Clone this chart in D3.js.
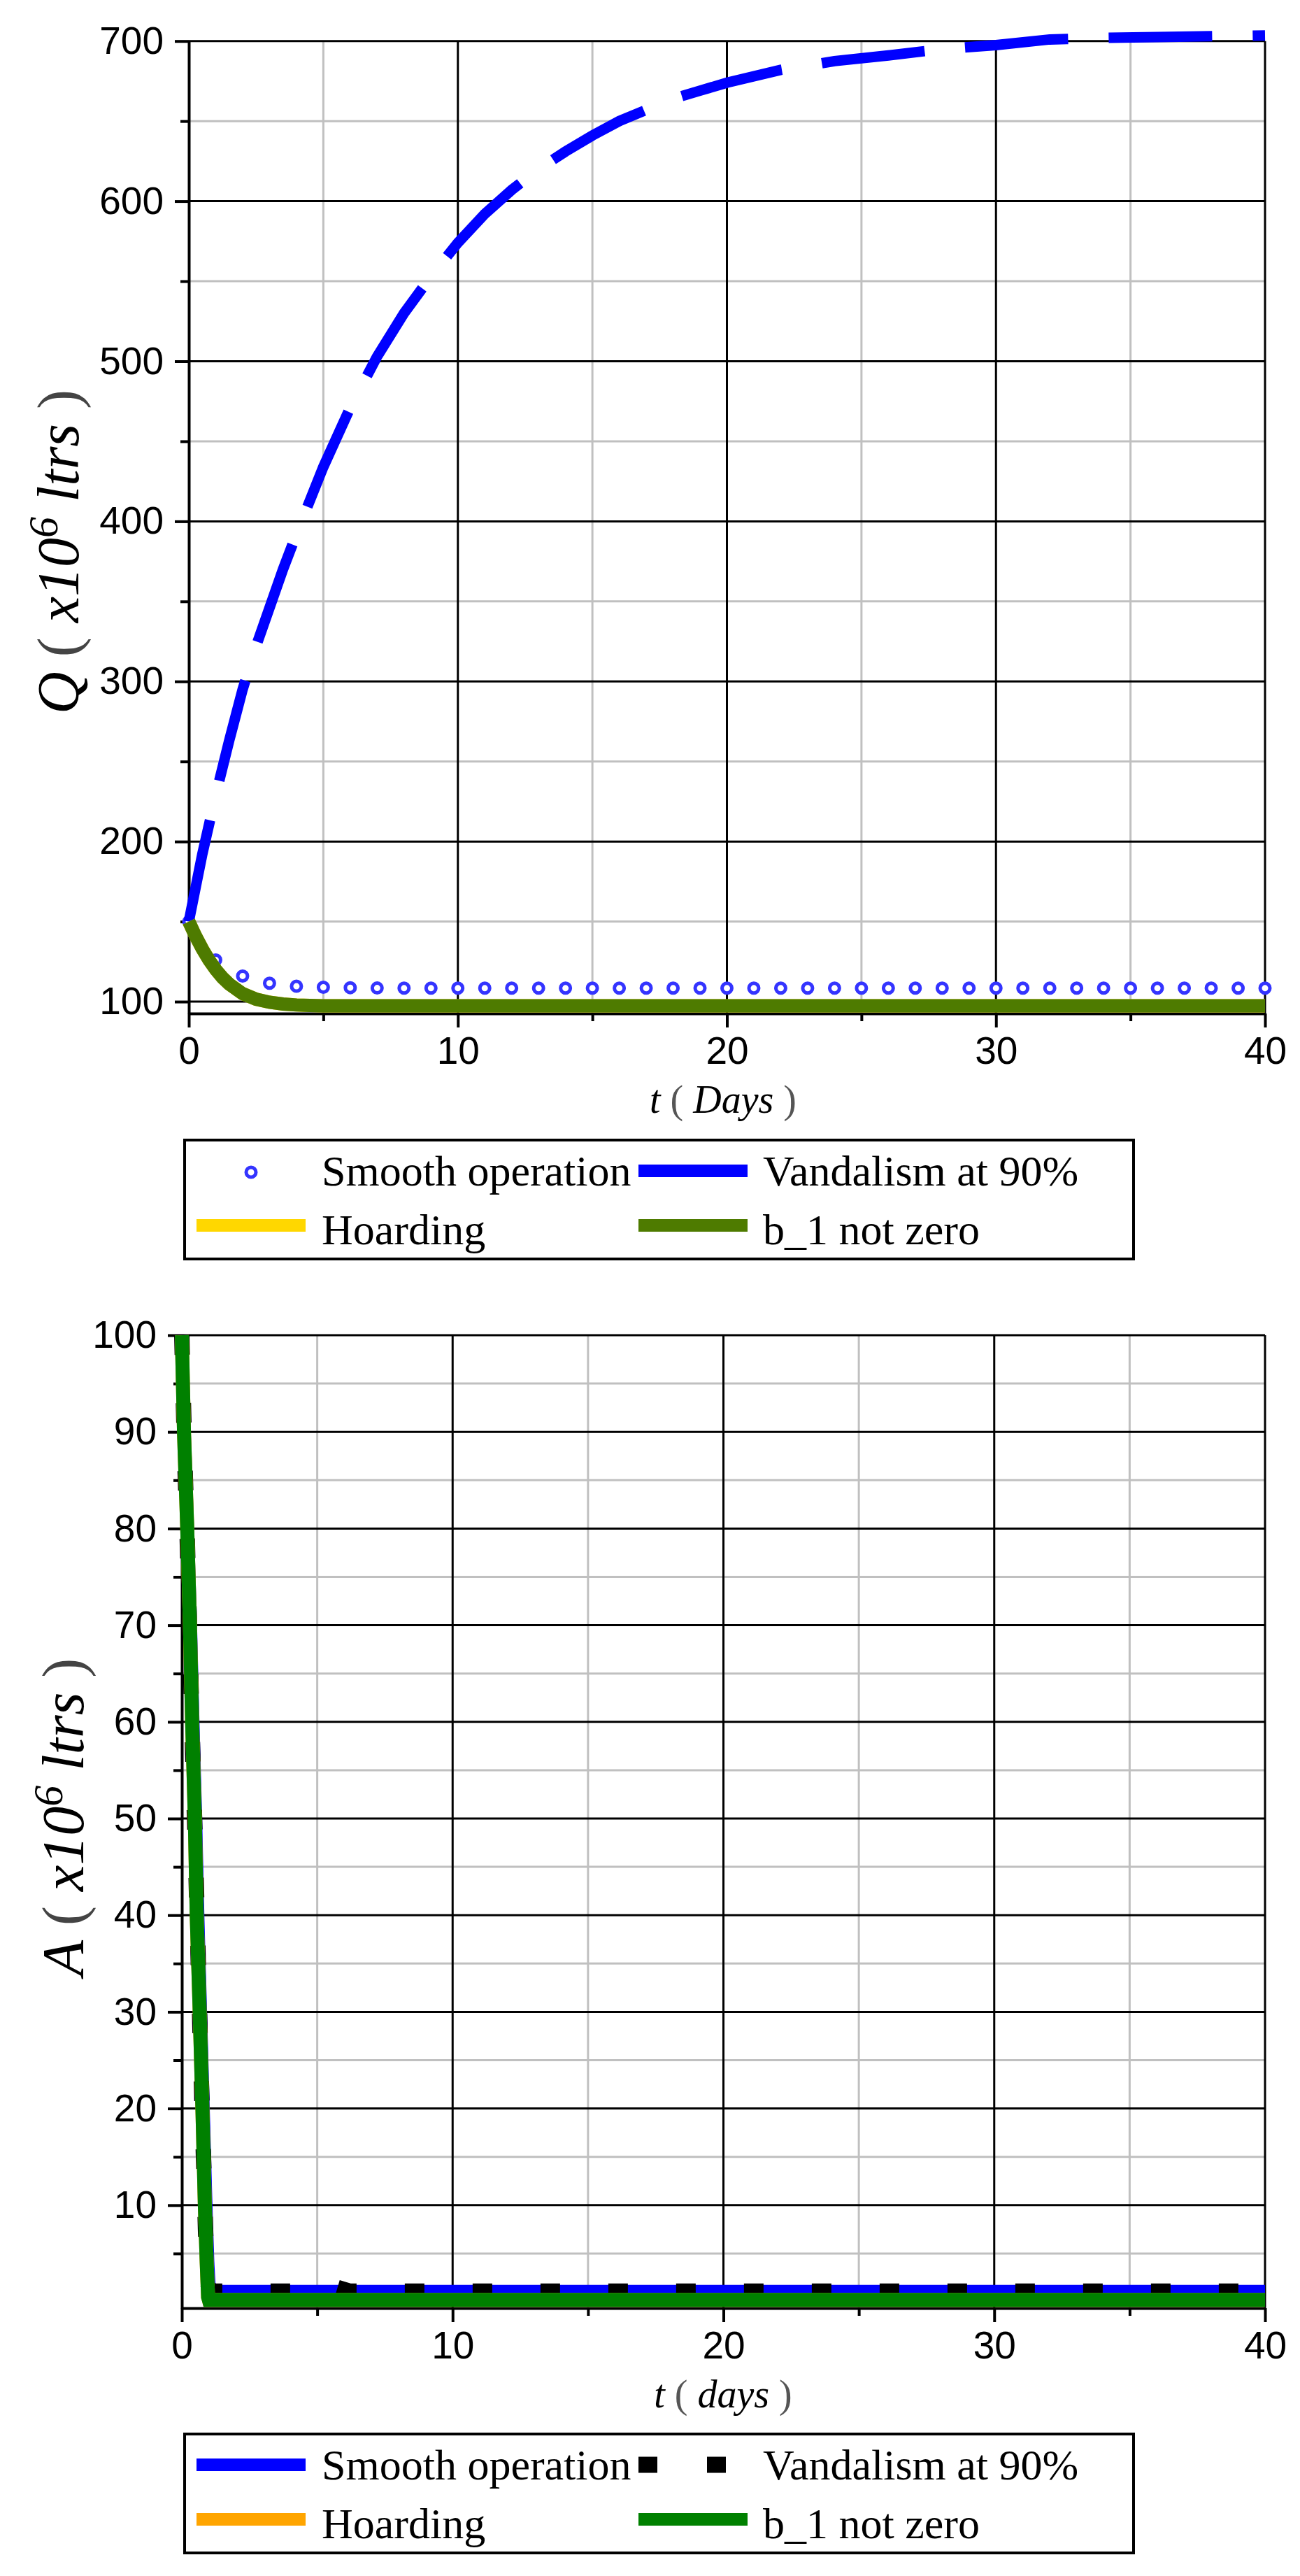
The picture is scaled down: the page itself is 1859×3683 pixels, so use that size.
<!DOCTYPE html>
<html>
<head>
<meta charset="utf-8">
<script src="https://cdn.jsdelivr.net/npm/d3@7"></script>
<style>
  body { margin: 0; background: #fff; }
  svg { display: block; }
</style>
</head>
<body>
<svg id="chart" width="1859" height="3683"></svg>
<script>
// ---------- data: top panel, Q (x10^6 ltrs) ----------
const daysQ = [0,1,2,3,4,5,6,7,8,9,10,11,12,13,14,15,16,17,18,19,20,
  21,22,23,24,25,26,27,28,29,30,31,32,33,34,35,36,37,38,39,40];
const smoothQ = [150,126,116,111.5,109.6,109,108.7,108.5,108.4,108.4,108.4,
  108.4,108.4,108.4,108.4,108.4,108.4,108.4,108.4,108.4,108.4,
  108.4,108.4,108.4,108.4,108.4,108.4,108.4,108.4,108.4,108.4,
  108.4,108.4,108.4,108.4,108.4,108.4,108.4,108.4,108.4,108.4];

const vandalT = [0,0.5,1,1.5,2,2.5,3,3.5,4,5,6,7,8,9,10,11,12,13,14,15,16,17,18,19,20,22,24,26,28,30,32,34,36,38,40];
const vandalQ = [150,192,229,263,295,322,346,370,392,434,471,503,530,553,574,592,607,620,631,641,650,657,664,669,674,682,687.5,691,695,697.5,701,702,702.5,703,703.5];

const b1T = [0,0.25,0.5,0.75,1,1.25,1.5,2,2.5,3,3.5,4,4.5,5,40];
const b1Q = [150,141,133,126,120,115,111,105,101.5,99.6,98.5,97.9,97.6,97.4,97.4];
// hoarding lies underneath b_1 in the picture
const hoardQ = [150,141,133,126,120,115,111,105,101.5,99.6,98.5,97.9,97.6,97.4,97.4];

// ---------- data: bottom panel, A (x10^6 ltrs) ----------
const smoothAT = [0,0.1,0.22,0.33,0.42,0.52,0.6,0.7,0.8,0.9,0.97,1.02,1.1,40];
const smoothA  = [100,90,80,70,60,50,40,30,20,10,4,1.5,1.1,1.1];

const vandalAT = [0,0.1,0.2,0.3,0.4,0.5,0.6,0.7,0.8,0.88,0.95,1.02,5.0,5.6,6.2,40];
const vandalA  = [100,88,79,68,57,47,36,25,15,7,2,1.1,1.1,1.6,1.1,1.1];

const b1AT = [0,0.08,0.2,0.3,0.38,0.48,0.55,0.66,0.76,0.85,0.92,0.97,1.0,40];
const b1A  = [100,90,80,70,60,50,40,30,20,10,4,0.5,0.2,0.2];
const hoardA = [100,90,80,70,60,50,40,30,20,10,4,0.5,0.2,0.2];

// ticks
const xMajor = [0,10,20,30,40];
const xMinor = [5,15,25,35];
const qMajor = [100,200,300,400,500,600,700];
const qMinor = [150,250,350,450,550,650];
const aMajor = [10,20,30,40,50,60,70,80,90,100];
const aMinor = [5,15,25,35,45,55,65,75,85,95];

const svg = d3.select('#chart');
const SANS = '"Liberation Sans", Arial, sans-serif';
const SERIF = '"Liberation Serif", "Times New Roman", serif';

function zip(ts, vs) { return ts.map((t, i) => [t, vs[i]]); }

function drawPanel(p) {
  const x = d3.scaleLinear().domain([0, 40]).range([p.left, 1809]);
  const y = d3.scaleLinear().domain(p.yDomain).range([p.bottom, p.top]);
  const g = svg.append('g');

  // grey minor grid
  g.append('g').selectAll('line').data(p.xMinor).join('line')
    .attr('x1', d => x(d)).attr('x2', d => x(d))
    .attr('y1', p.top).attr('y2', p.bottom)
    .attr('stroke', '#c0c0c0').attr('stroke-width', 3);
  g.append('g').selectAll('line').data(p.yMinor).join('line')
    .attr('x1', p.left).attr('x2', 1809)
    .attr('y1', d => y(d)).attr('y2', d => y(d))
    .attr('stroke', '#c0c0c0').attr('stroke-width', 3);
  // black major grid
  g.append('g').selectAll('line').data(p.xMajor.slice(1)).join('line')
    .attr('x1', d => x(d)).attr('x2', d => x(d))
    .attr('y1', p.top).attr('y2', p.bottom)
    .attr('stroke', '#000').attr('stroke-width', 3);
  g.append('g').selectAll('line').data(p.yMajor).join('line')
    .attr('x1', p.left).attr('x2', 1809)
    .attr('y1', d => y(d)).attr('y2', d => y(d))
    .attr('stroke', '#000').attr('stroke-width', 3);

  // minor ticks
  g.append('g').attr('transform', `translate(${p.left},0)`)
    .call(d3.axisLeft(y).tickValues(p.yMinor).tickSize(12).tickSizeOuter(0).tickFormat(''))
    .call(a => a.select('.domain').remove())
    .call(a => a.selectAll('line').attr('stroke-width', 4));
  g.append('g').attr('transform', `translate(0,${p.bottom})`)
    .call(d3.axisBottom(x).tickValues(p.xMinor).tickSize(11).tickSizeOuter(0).tickFormat(''))
    .call(a => a.select('.domain').remove())
    .call(a => a.selectAll('line').attr('stroke-width', 4));

  // major axes
  g.append('g').attr('transform', `translate(${p.left},0)`)
    .call(d3.axisLeft(y).tickValues(p.yMajor).tickSize(20).tickSizeOuter(0).tickPadding(16).tickFormat(d3.format('d')))
    .call(a => a.select('.domain').attr('stroke-width', 4))
    .call(a => a.selectAll('line').attr('stroke-width', 4))
    .call(a => a.selectAll('text').attr('font-family', SANS).attr('font-size', 55).attr('fill', '#000'));
  g.append('g').attr('transform', `translate(0,${p.bottom})`)
    .call(d3.axisBottom(x).tickValues(xMajor).tickSize(20).tickSizeOuter(0).tickPadding(13).tickFormat(d3.format('d')))
    .call(a => a.select('.domain').attr('stroke-width', 4))
    .call(a => a.selectAll('line').attr('stroke-width', 4))
    .call(a => a.selectAll('text').attr('font-family', SANS).attr('font-size', 55).attr('fill', '#000'));

  // x label
  const xl = g.append('text').attr('x', 1034).attr('y', p.bottom + 142)
    .attr('text-anchor', 'middle').attr('font-family', SERIF).attr('font-size', 56);
  xl.append('tspan').attr('font-style', 'italic').text('t');
  xl.append('tspan').attr('fill', '#555').text(' ( ');
  xl.append('tspan').attr('font-style', 'italic').text(p.xWord);
  xl.append('tspan').attr('fill', '#555').text(' )');

  // y label
  const yl = g.append('text')
    .attr('transform', `translate(${p.yLabelX},${p.yLabelY}) rotate(-90)`)
    .attr('text-anchor', 'middle').attr('font-family', SERIF).attr('font-size', 84);
  yl.append('tspan').attr('font-style', 'italic').text(p.yVar);
  yl.append('tspan').attr('fill', '#444').text(' ( ');
  yl.append('tspan').attr('font-style', 'italic').text('x10');
  yl.append('tspan').attr('font-style', 'italic').attr('font-size', 60).attr('dy', -30).text('6');
  yl.append('tspan').attr('font-style', 'italic').attr('dy', 30).text(' ltrs');
  yl.append('tspan').attr('fill', '#444').text(' )');

  return { x, y, g };
}

function drawLine(panel, pts, color, width, dash) {
  const line = d3.line().x(d => panel.x(d[0])).y(d => panel.y(d[1]));
  panel.g.append('path').datum(pts)
    .attr('d', line)
    .attr('fill', 'none')
    .attr('stroke', color)
    .attr('stroke-width', width)
    .attr('stroke-linejoin', 'miter')
    .attr('stroke-dasharray', dash || null);
}

function drawLegend(boxTop, items) {
  const lg = svg.append('g');
  lg.append('rect').attr('x', 264).attr('y', boxTop).attr('width', 1357).attr('height', 170)
    .attr('fill', 'none').attr('stroke', '#000').attr('stroke-width', 4);
  const colX = [281, 913];
  const textX = [460, 1091];
  const symY = [44, 122];
  const txtY = [65, 149];
  items.forEach(it => {
    const sx = colX[it.col], sy = boxTop + symY[it.row];
    if (it.kind === 'dot') {
      lg.append('circle').attr('cx', sx + 78).attr('cy', sy + 2).attr('r', 7)
        .attr('fill', '#fff').attr('stroke', it.color).attr('stroke-width', 5);
    } else {
      lg.append('line').attr('x1', sx).attr('x2', sx + 156).attr('y1', sy).attr('y2', sy)
        .attr('stroke', it.color).attr('stroke-width', it.width)
        .attr('stroke-dasharray', it.dash || null);
    }
    lg.append('text').attr('x', textX[it.col]).attr('y', boxTop + txtY[it.row])
      .attr('font-family', SERIF).attr('font-size', 62).attr('fill', '#000')
      .text(it.label);
  });
}

// ---------- top panel ----------
const qPanel = drawPanel({
  left: 270, top: 58.7, bottom: 1449, yDomain: [92.6, 700],
  yMajor: qMajor, yMinor: qMinor, xMajor, xMinor,
  xWord: 'Days', yVar: 'Q', yLabelX: 112, yLabelY: 789
});
qPanel.g.append('g').selectAll('circle').data(zip(daysQ, smoothQ)).join('circle')
  .attr('cx', d => qPanel.x(d[0])).attr('cy', d => qPanel.y(d[1])).attr('r', 7)
  .attr('fill', '#fff').attr('stroke', '#3434ff').attr('stroke-width', 5);
drawLine(qPanel, zip(vandalT, vandalQ), '#0000ff', 15, '148,58');
drawLine(qPanel, zip(b1T, hoardQ), '#ffd700', 19);
drawLine(qPanel, zip(b1T, b1Q), '#4e7b00', 19);

drawLegend(1630, [
  { label: 'Smooth operation', col: 0, row: 0, kind: 'dot', color: '#3434ff' },
  { label: 'Vandalism at 90%', col: 1, row: 0, kind: 'line', color: '#0000ff', width: 18 },
  { label: 'Hoarding', col: 0, row: 1, kind: 'line', color: '#ffd700', width: 18 },
  { label: 'b_1 not zero', col: 1, row: 1, kind: 'line', color: '#4e7b00', width: 18 }
]);

// ---------- bottom panel ----------
const aPanel = drawPanel({
  left: 260, top: 1909, bottom: 3300, yDomain: [-0.65, 100],
  yMajor: aMajor, yMinor: aMinor, xMajor, xMinor,
  xWord: 'days', yVar: 'A', yLabelX: 119, yLabelY: 2598
});
drawLine(aPanel, zip(smoothAT, smoothA), '#0000ff', 18);
drawLine(aPanel, zip(vandalAT, vandalA), '#000', 22, '28,69');
drawLine(aPanel, zip(b1AT, hoardA), '#ffa500', 20);
drawLine(aPanel, zip(b1AT, b1A), '#008000', 20);

drawLegend(3480, [
  { label: 'Smooth operation', col: 0, row: 0, kind: 'line', color: '#0000ff', width: 18 },
  { label: 'Vandalism at 90%', col: 1, row: 0, kind: 'line', color: '#000', width: 23, dash: '27,71' },
  { label: 'Hoarding', col: 0, row: 1, kind: 'line', color: '#ffa500', width: 18 },
  { label: 'b_1 not zero', col: 1, row: 1, kind: 'line', color: '#008000', width: 18 }
]);
</script>
</body>
</html>
